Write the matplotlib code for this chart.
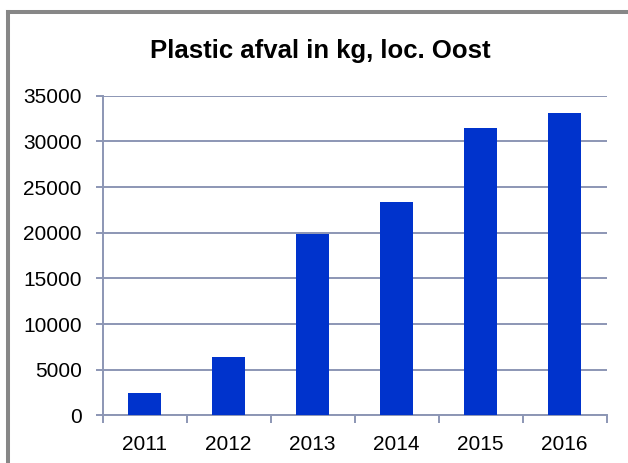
import matplotlib.pyplot as plt
from matplotlib.lines import Line2D

years = ['2011', '2012', '2013', '2014', '2015', '2016']
afval = [2500, 6400, 19900, 23400, 31500, 33100]
yticks = [0, 5000, 10000, 15000, 20000, 25000, 30000, 35000]

plt.rcParams['font.family'] = ['Liberation Sans', 'DejaVu Sans']

fig = plt.figure(figsize=(6.28, 4.63), dpi=100)
fig.patch.set_facecolor('white')

# grey chart frame: only the top and left edges are inside the picture
fx, fy = 8 / 628, 1 - 12 / 463
fig.add_artist(Line2D([fx, 1.1], [fy, fy], transform=fig.transFigure,
                      color='#878787', linewidth=2.9, solid_capstyle='projecting'))
fig.add_artist(Line2D([fx, fx], [fy, -0.1], transform=fig.transFigure,
                      color='#878787', linewidth=2.9, solid_capstyle='projecting'))

ax = fig.add_axes([0.1635, 0.1026, 0.966 - 0.1635, 0.7933 - 0.1026])
grid_c = '#8C96B4'

x = list(range(len(years)))
ax.bar(x, afval, width=0.4, color='#0033CC', zorder=3)

ax.set_xlim(-0.5, len(years) - 0.5)
ax.set_ylim(0, 35000)
ax.set_yticks(yticks)
ax.set_yticklabels([str(v) for v in yticks])
ax.set_xticks(x)
ax.set_xticklabels(years)
ax.set_xticks([i - 0.5 for i in range(len(years) + 1)], minor=True)

ax.grid(axis='y', color=grid_c, linewidth=1.4, zorder=0)
for s in ['top', 'right']:
    ax.spines[s].set_visible(False)
for s in ['left', 'bottom']:
    ax.spines[s].set_color(grid_c)
    ax.spines[s].set_linewidth(1.4)

ax.tick_params(axis='y', direction='out', length=5, width=1.4, color=grid_c,
               labelsize=15, pad=10)
ax.tick_params(axis='x', which='major', length=0, labelsize=15, pad=14)
ax.tick_params(axis='x', which='minor', direction='out', length=6, width=1.4,
               color=grid_c)

fig.text(320.5 / 628, 1 - 51 / 463, 'Plastic afval in kg, loc. Oost',
         ha='center', va='center', fontsize=18.5, fontweight='bold')

fig.savefig('out.png', dpi=100)
